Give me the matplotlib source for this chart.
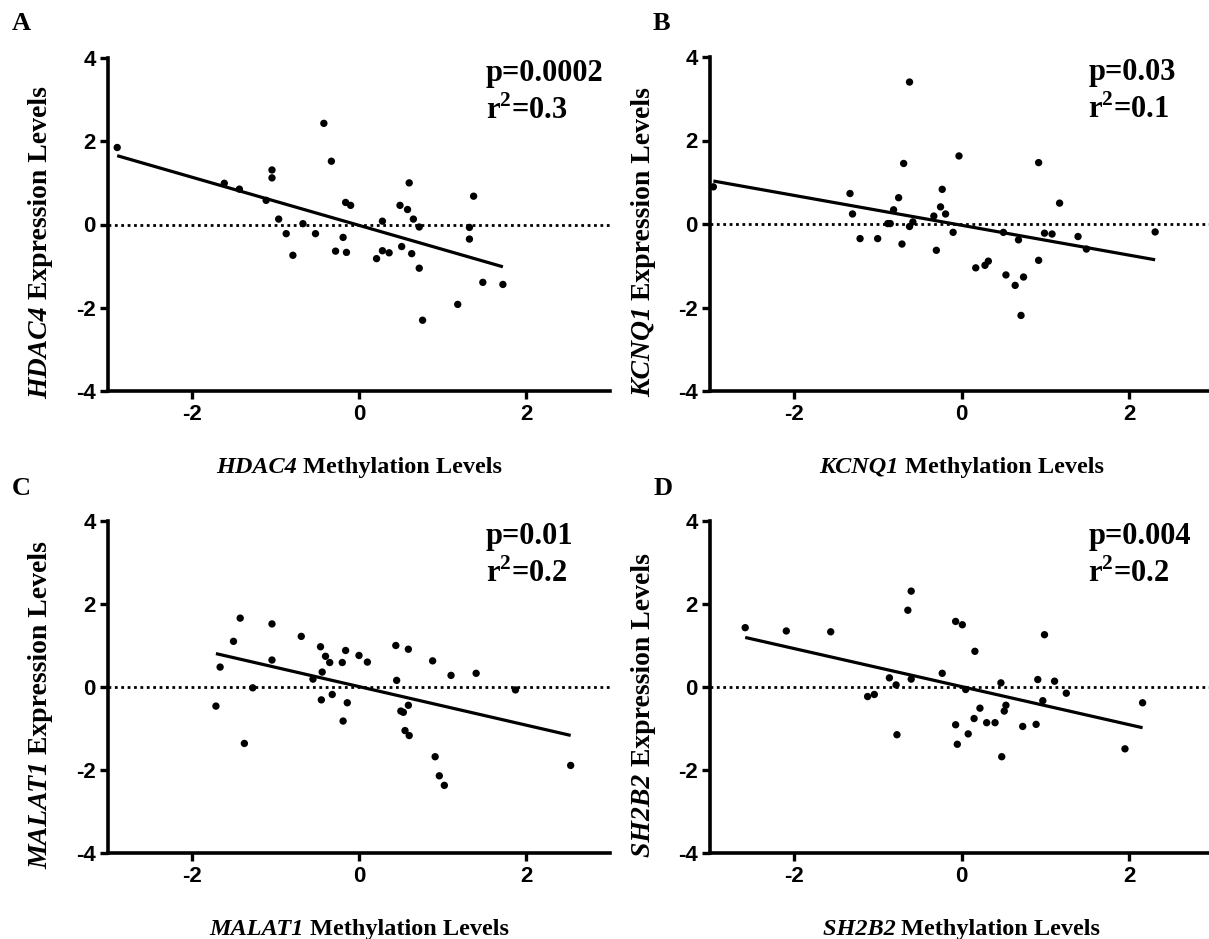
import matplotlib
matplotlib.use('Agg')
import matplotlib.pyplot as plt
import numpy as np

plt.rcParams['axes.unicode_minus'] = False
plt.rcParams['mathtext.fontset'] = 'custom'
plt.rcParams['mathtext.rm'] = 'Liberation Serif:bold'
plt.rcParams['mathtext.bf'] = 'Liberation Serif:bold'

# ---- data ----
genes = ['HDAC4', 'KCNQ1', 'MALAT1', 'SH2B2']
letters = ['A', 'B', 'C', 'D']
p_text = ['p=0.0002', 'p=0.03', 'p=0.01', 'p=0.004']
r2_text = ['0.3', '0.1', '0.2', '0.2']

hdac4_x = [-2.89, -1.61, -1.43, -1.11, -1.04, -1.04, -0.96, -0.87, -0.79, -0.67,
           -0.52, -0.42, -0.33, -0.19, -0.28, -0.16, -0.10, -0.15, 0.21, 0.28,
           0.28, 0.36, 0.60, 0.49, 0.58, 0.65, 0.72, 0.51, 0.63, 0.72,
           0.76, 1.18, 1.32, 1.32, 1.37, 1.48, 1.72]
hdac4_y = [1.85, 0.99, 0.85, 0.58, 1.31, 1.12, 0.13, -0.22, -0.74, 0.02,
           -0.22, 2.43, 1.52, -0.31, -0.64, 0.53, 0.46, -0.67, -0.82, 0.08,
           -0.63, -0.68, 1.00, 0.46, 0.36, 0.13, -0.06, -0.53, -0.70, -1.05,
           -2.30, -1.92, -0.07, -0.35, 0.68, -1.39, -1.44]

kcnq1_x = [-2.96, -1.33, -1.30, -1.21, -1.00, -0.88, -0.85, -0.81, -0.71, -0.75,
           -0.69, -0.62, -0.62, -0.58, -0.33, -0.30, -0.25, -0.23, -0.19, -0.10,
           -0.03, 0.17, 0.28, 0.32, 0.50, 0.53, 0.64, 0.68, 0.74, 0.71,
           0.92, 0.92, 0.99, 1.08, 1.17, 1.39, 1.49, 2.31]
kcnq1_y = [0.89, 0.73, 0.24, -0.35, -0.35, 0.01, 0.01, 0.34, -0.48, 0.63,
           1.45, 3.40, -0.06, 0.05, 0.19, -0.63, 0.41, 0.83, 0.24, -0.20,
           1.63, -1.05, -0.99, -0.89, -0.20, -1.22, -1.47, -0.38, -1.27, -2.19,
           1.47, -0.87, -0.22, -0.24, 0.50, -0.30, -0.60, -0.19]

malat1_x = [-1.71, -1.66, -1.50, -1.42, -1.37, -1.27, -1.04, -1.04, -0.69, -0.55,
            -0.46, -0.40, -0.35, -0.44, -0.45, -0.32, -0.20, -0.16, -0.14, -0.19,
            0.00, 0.10, 0.44, 0.45, 0.59, 0.50, 0.53, 0.59, 0.55, 0.60,
            0.88, 0.91, 0.96, 1.02, 1.10, 1.40, 1.87, 2.53]
malat1_y = [-0.46, 0.48, 1.10, 1.66, -1.36, -0.02, 1.52, 0.65, 1.22, 0.19,
            0.97, 0.74, 0.59, 0.36, -0.31, -0.18, 0.59, 0.88, -0.38, -0.82,
            0.76, 0.60, 1.00, 0.16, 0.91, -0.58, -0.61, -0.44, -1.05, -1.17,
            0.63, -1.68, -2.14, -2.37, 0.28, 0.33, -0.07, -1.89]

sh2b2_x = [-2.58, -2.09, -1.56, -1.12, -1.04, -0.86, -0.78, -0.77, -0.64, -0.60,
           -0.60, -0.23, -0.07, -0.07, -0.05, 0.01, 0.16, 0.05, 0.08, 0.15,
           0.22, 0.30, 0.40, 0.47, 0.53, 0.51, 0.48, 0.73, 0.89, 0.91,
           0.97, 0.99, 1.11, 1.25, 1.95, 2.16]
sh2b2_y = [1.43, 1.35, 1.33, -0.23, -0.18, 0.22, 0.05, -1.15, 1.85, 2.31,
           0.19, 0.33, 1.58, -0.91, -1.38, 1.50, 0.86, -0.06, -1.13, -0.76,
           -0.51, -0.86, -0.86, 0.10, -0.44, -0.58, -1.68, -0.95, -0.90, 0.18,
           -0.33, 1.26, 0.14, -0.15, -1.49, -0.38]

xs = [hdac4_x, kcnq1_x, malat1_x, sh2b2_x]
ys = [hdac4_y, kcnq1_y, malat1_y, sh2b2_y]

# regression lines
slopes = [-0.579, -0.358, -0.465, -0.459]
intercepts = [-0.02, -0.03, 0.01, 0.01]

# ---- layout (pixel-based, figure 1209 x 939) ----
W, H = 1209, 939
fig = plt.figure(figsize=(W / 100, H / 100), dpi=100)
renderer = fig.canvas.get_renderer()

boxes = [(108, 58, 610, 391), (710, 57, 1213, 391),
         (108, 521, 610, 853), (710, 521, 1213, 853)]
letter_pos = [(12, 12), (653, 12), (12, 477), (654, 477)]


def mixed_label(cx, cy, gene, rest, vertical, size):
    """Italic gene name followed by bold text, centred on (cx, cy) in pixels."""
    rot = 90 if vertical else 0
    font = dict(family='Liberation Serif', fontweight='bold', fontsize=size)
    t1 = fig.text(0, 0, gene + ' ', style='italic', rotation=rot, **font)
    t2 = fig.text(0, 0, rest, rotation=rot, **font)
    w1 = t1.get_window_extent(renderer)
    w2 = t2.get_window_extent(renderer)
    if vertical:
        y0 = cy - (w1.height + w2.height) / 2
        t1.set_position((cx / W, y0 / H))
        t2.set_position((cx / W, (y0 + w1.height) / H))
        for tt in (t1, t2):
            tt.set_ha('center'); tt.set_va('bottom')
    else:
        x0 = cx - (w1.width + w2.width) / 2
        t1.set_position((x0 / W, cy / H))
        t2.set_position(((x0 + w1.width) / W, cy / H))
        for tt in (t1, t2):
            tt.set_ha('left'); tt.set_va('center_baseline')


for i in range(4):
    l, t, r, b = boxes[i]
    ax = fig.add_axes([l / W, 1 - b / H, (r - l) / W, (b - t) / H])
    x = np.array(xs[i])
    y = np.array(ys[i])

    ax.axhline(0, color='black', lw=2.0, linestyle=(0, (1, 1.3)),
               dash_capstyle='butt', zorder=1)
    ax.scatter(x, y, s=28, color='black', edgecolors='none', zorder=3,
               clip_on=False)
    xl = np.array([x.min(), x.max()])
    ax.plot(xl, slopes[i] * xl + intercepts[i], color='black', lw=2.3,
            solid_capstyle='butt', zorder=2)

    ax.set_xlim(-3, 3)
    ax.set_ylim(-4, 4)
    ax.set_xticks([-2, 0, 2])
    ax.set_yticks([-4, -2, 0, 2, 4])
    for side in ['top', 'right']:
        ax.spines[side].set_visible(False)
    for side in ['left', 'bottom']:
        ax.spines[side].set_linewidth(2.6)
    ax.tick_params(direction='out', length=6, width=2.4, pad=3)
    for lab in ax.get_xticklabels() + ax.get_yticklabels():
        lab.set_fontfamily('Liberation Sans')
        lab.set_fontweight('bold')
        lab.set_fontsize(16)

    # axis titles: italic gene symbol + bold text
    g = genes[i]
    mixed_label((l + r) / 2, H - (b + 74), g, 'Methylation Levels',
                vertical=False, size=17.5)
    mixed_label(l - 67, H - ((t + b) / 2 + 18), g, 'Expression Levels',
                vertical=True, size=20)

    ax.text(0.752, 0.997, p_text[i], transform=ax.transAxes, ha='left', va='top',
            family='Liberation Serif', fontweight='bold', fontsize=22)
    ax.text(0.752, 0.887, r'r$^{2}$=' + r2_text[i], transform=ax.transAxes,
            ha='left', va='top', family='Liberation Serif', fontweight='bold',
            fontsize=22)

    lx, ly = letter_pos[i]
    fig.text(lx / W, 1 - ly / H, letters[i], ha='left', va='top',
             family='Liberation Serif', fontweight='bold', fontsize=19)

fig.savefig('out.png', dpi=100)
